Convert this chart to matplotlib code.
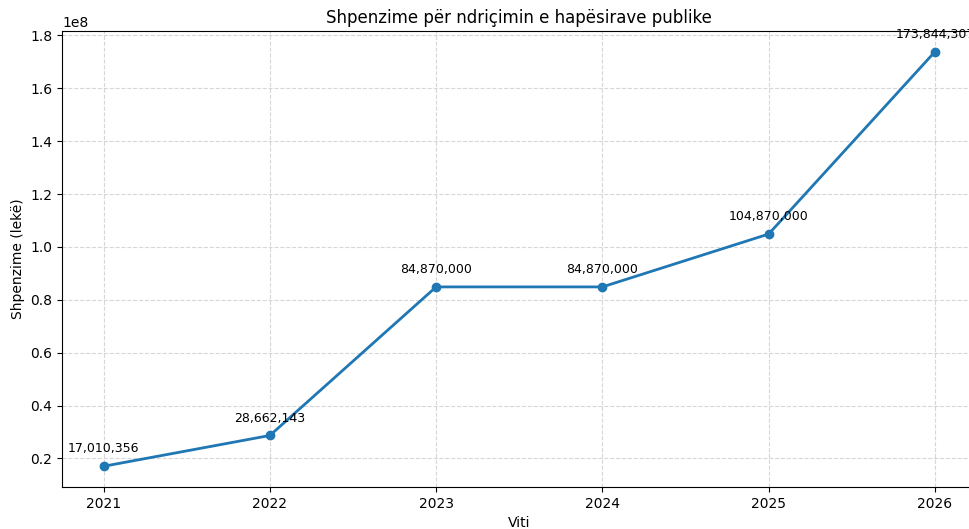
import matplotlib
matplotlib.use("Agg")
import matplotlib.pyplot as plt

years = [2021, 2022, 2023, 2024, 2025, 2026]
spending = [17010356, 28662143, 84870000, 84870000, 104870000, 173844307]

fig = plt.figure(figsize=(9.69, 5.29), dpi=100)
# axes run slightly past the right edge, like the cropped original
ax = fig.add_axes([62 / 969, 42 / 529, 914.5 / 969, 456 / 529])

ax.plot(years, spending, marker='o', color='#1f77b4', linewidth=2, markersize=6)
for x, y in zip(years, spending):
    ax.annotate('{:,}'.format(y), (x, y), textcoords='offset points',
                xytext=(0, 10), ha='center', fontsize=9)

ax.set_title('Shpenzime për ndriçimin e hapësirave publike', fontsize=12)
ax.set_xlabel('Viti', fontsize=10)
ax.set_ylabel('Shpenzime (lekë)', fontsize=10)
ax.set_xticks(years)
ax.grid(True, linestyle='--', alpha=0.5)
ax.spines['right'].set_visible(False)

fig.savefig('out.png', dpi=100)
